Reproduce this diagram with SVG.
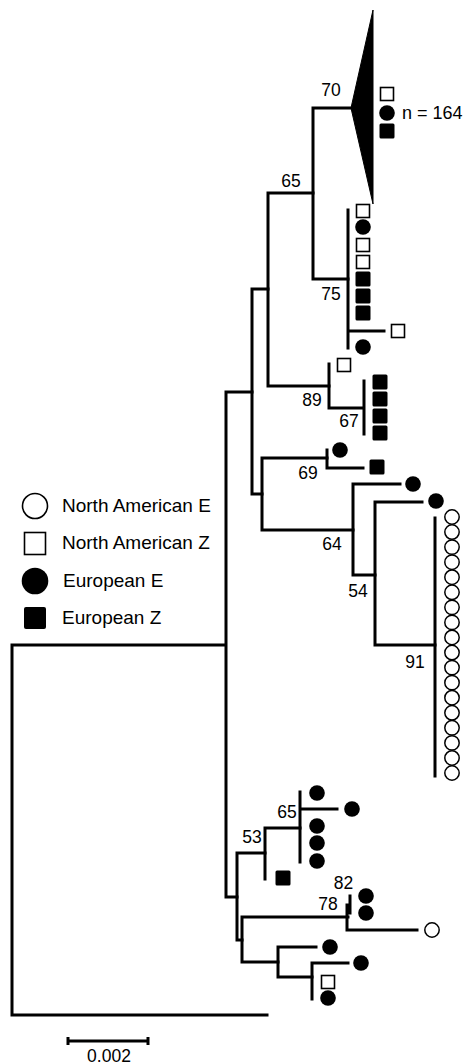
<svg xmlns="http://www.w3.org/2000/svg" xmlns:xlink="http://www.w3.org/1999/xlink" width="467" height="1064" viewBox="0 0 467 1064">
<style>
.br{fill:none;stroke:#000;stroke-width:3;stroke-linecap:square;stroke-linejoin:miter}
.lb{font-family:"Liberation Sans",Arial,sans-serif;font-size:17.5px;fill:#000;text-anchor:middle}
.lg{font-family:"Liberation Sans",Arial,sans-serif;font-size:18px;fill:#000}
.lgd{font-family:"Liberation Sans",Arial,sans-serif;font-size:19px;fill:#000}
</style>
<defs>
<rect id="osq" x="-6.5" y="-6.5" width="13" height="13" fill="#fff" stroke="#000" stroke-width="1.6"/>
<rect id="fsq" x="-7.5" y="-7.5" width="15" height="15" rx="1.5" fill="#000"/>
<circle id="fc" r="7.8" fill="#000"/>
<circle id="oc" r="7.2" fill="#fff" stroke="#000" stroke-width="1.5"/>
</defs>
<rect width="467" height="1064" fill="#fff"/>
<g id="connectors">
<path class="br" d="M225,645 H12 V1015 H267"/>
<path class="br" d="M252,392 H226 V897 H237"/>
<path class="br" d="M268,289 H252 V494 H262"/>
<path class="br" d="M313,193 H268 V386 H329"/>
<path class="br" d="M351,108 H313 V279 H348"/>
<path class="br" d="M348,210 V348 M348,331 H384"/>
<path class="br" d="M329,364 V408 H364 M364,381 V434"/>
<path class="br" d="M327,458 H262 V530 H353"/>
<path class="br" d="M327,450 V468 H363"/>
<path class="br" d="M400,484 H353 V575 H375"/>
<path class="br" d="M422,502 H375 V645 H435"/>
<path class="br" d="M435,518 V776"/>
<path class="br" d="M265,853 H237 V940 H242"/>
<path class="br" d="M300,828 H265 V879"/>
<path class="br" d="M300,792 V862 M300,809 H337"/>
<path class="br" d="M348,917 H242 V962 H278"/>
<path class="br" d="M347,905 V930 H417 M347,905 H350 M350,896 V913"/>
<path class="br" d="M316,947 H278 V977 H312"/>
<path class="br" d="M348,963 H312 V999"/>
</g>
<g id="collapsed-clade">
<polygon points="351,108 373,10 373,204" fill="#000" stroke="#000" stroke-width="1"/>
<use xlink:href="#osq" x="387" y="94"/>
<use xlink:href="#fc" x="387" y="113"/>
<use xlink:href="#fsq" x="387" y="131"/>
<text class="lg" x="402" y="119">n = 164</text>
</g>
<g id="clade-75">
<use xlink:href="#osq" x="363" y="211"/>
<use xlink:href="#fc" x="363" y="227"/>
<use xlink:href="#osq" x="363" y="245"/>
<use xlink:href="#osq" x="363" y="262"/>
<use xlink:href="#fsq" x="363" y="279"/>
<use xlink:href="#fsq" x="363" y="296"/>
<use xlink:href="#fsq" x="363" y="313"/>
<use xlink:href="#osq" x="398" y="331"/>
<use xlink:href="#fc" x="363" y="347"/>
</g>
<g id="clade-89">
<use xlink:href="#osq" x="344" y="365"/>
<use xlink:href="#fsq" x="380" y="382"/>
<use xlink:href="#fsq" x="380" y="399"/>
<use xlink:href="#fsq" x="380" y="416"/>
<use xlink:href="#fsq" x="380" y="433"/>
</g>
<g id="clade-69">
<use xlink:href="#fc" x="340" y="450"/>
<use xlink:href="#fsq" x="377" y="467"/>
</g>
<g id="clade-64">
<use xlink:href="#fc" x="413" y="484"/>
<use xlink:href="#fc" x="436" y="501"/>
</g>
<g id="clade-91">
<use xlink:href="#oc" x="452" y="517"/>
<use xlink:href="#oc" x="452" y="532.06"/>
<use xlink:href="#oc" x="452" y="547.12"/>
<use xlink:href="#oc" x="452" y="562.18"/>
<use xlink:href="#oc" x="452" y="577.24"/>
<use xlink:href="#oc" x="452" y="592.29"/>
<use xlink:href="#oc" x="452" y="607.35"/>
<use xlink:href="#oc" x="452" y="622.41"/>
<use xlink:href="#oc" x="452" y="637.47"/>
<use xlink:href="#oc" x="452" y="652.53"/>
<use xlink:href="#oc" x="452" y="667.59"/>
<use xlink:href="#oc" x="452" y="682.65"/>
<use xlink:href="#oc" x="452" y="697.71"/>
<use xlink:href="#oc" x="452" y="712.76"/>
<use xlink:href="#oc" x="452" y="727.82"/>
<use xlink:href="#oc" x="452" y="742.88"/>
<use xlink:href="#oc" x="452" y="757.94"/>
<use xlink:href="#oc" x="452" y="773"/>
</g>
<g id="clade-53">
<use xlink:href="#fc" x="317" y="793"/>
<use xlink:href="#fc" x="352" y="809"/>
<use xlink:href="#fc" x="317" y="826"/>
<use xlink:href="#fc" x="317" y="843"/>
<use xlink:href="#fc" x="317" y="861"/>
<use xlink:href="#fsq" x="283" y="878"/>
</g>
<g id="clade-78">
<use xlink:href="#fc" x="366" y="896"/>
<use xlink:href="#fc" x="366" y="913"/>
<use xlink:href="#oc" x="432" y="930"/>
</g>
<g id="clade-bottom">
<use xlink:href="#fc" x="330" y="947"/>
<use xlink:href="#fc" x="361" y="963"/>
<use xlink:href="#osq" x="328" y="982"/>
<use xlink:href="#fc" x="328" y="998"/>
</g>
<g id="support-labels">
<text class="lb" x="331" y="96">70</text>
<text class="lb" x="291" y="187">65</text>
<text class="lb" x="331" y="300">75</text>
<text class="lb" x="312" y="406">89</text>
<text class="lb" x="349" y="427">67</text>
<text class="lb" x="308" y="479">69</text>
<text class="lb" x="332" y="550">64</text>
<text class="lb" x="358" y="597">54</text>
<text class="lb" x="415" y="668">91</text>
<text class="lb" x="287" y="818">65</text>
<text class="lb" x="252" y="843">53</text>
<text class="lb" x="343.5" y="889">82</text>
<text class="lb" x="328" y="910">78</text>
</g>
<g id="legend">
<circle cx="35" cy="506" r="12.5" fill="#fff" stroke="#000" stroke-width="1.6"/>
<text class="lgd" x="62" y="512">North American E</text>
<rect x="24.5" y="532.5" width="21" height="22" fill="#fff" stroke="#000" stroke-width="1.6"/>
<text class="lgd" x="62" y="549">North American Z</text>
<circle cx="35" cy="581" r="13.3" fill="#000"/>
<text class="lgd" x="63" y="587">European E</text>
<rect x="24" y="607" width="22" height="22" rx="2" fill="#000"/>
<text class="lgd" x="62" y="624">European Z</text>
</g>
<g id="scale-bar">
<path class="br" d="M68,1041 H148 M68,1037 V1045 M148,1037 V1045" style="stroke-linecap:butt"/>
<text class="lb" x="109" y="1062">0.002</text>
</g>
</svg>
